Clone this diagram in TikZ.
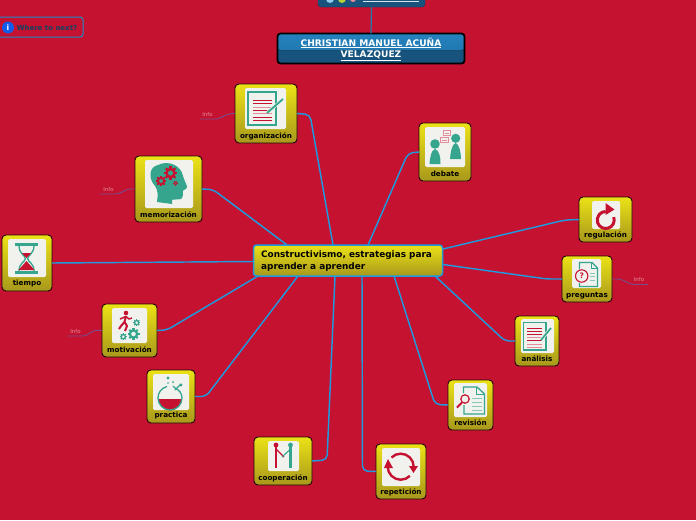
\documentclass[tikz,border=0pt]{standalone}
\usepackage{fontspec}
\setmainfont{DejaVu Sans}
\usetikzlibrary{calc}
\definecolor{bg}{HTML}{C41230}
\definecolor{conn}{HTML}{1E9ADF}
\definecolor{teal}{HTML}{35A58E}
\definecolor{panelc}{HTML}{F1F2EE}
\definecolor{ytop}{HTML}{EBE216}
\definecolor{ybot}{HTML}{A8981C}
\definecolor{pale}{HTML}{E58C9C}
\definecolor{navy}{HTML}{17537C}
\definecolor{rtop}{HTML}{2482BE}
\definecolor{infol}{HTML}{7A4C8C}
\tikzset{
  topicbox/.style={draw=black!85!bg,line width=.9pt,rounded corners=4pt,top color=ytop,bottom color=ybot,inner sep=0,outer sep=0},
  panelbox/.style={fill=panelc,rounded corners=1.5pt,inner sep=0,outer sep=0},
  lbl/.style={font=\bfseries\fontsize{7.2}{8}\selectfont,text=black,inner sep=0},
  linkline/.style={draw=conn,line width=1.45pt,rounded corners=5pt},
  infoline/.style={draw=infol,line width=.9pt,rounded corners=5pt},
  infotxt/.style={font=\fontsize{5.4}{6}\selectfont,text=pale,inner sep=0},
  tealline/.style={draw=teal,line width=1.3pt},
  redline/.style={draw=bg,line width=1pt},
  paleline/.style={draw=pale,line width=1pt}
}
\newcommand\topic[7]{%
  \node[topicbox,minimum width=#4pt,minimum height=#5pt] (#1) at (#2,#3) {};
  \node[lbl] (#1txt) at (#2,#7) {#6};}
\newcommand\iconpanel[5]{\node[panelbox,minimum width=#4pt,minimum height=#5pt] (#1) at (#2,#3) {};}
\newcommand\cog[4]{%
  \draw[#4,line width=#3*.45pt] (#1,#2) circle (#3*.72);
  \foreach \a in {0,45,...,315}{\draw[#4,line width=#3*.42pt] ($(#1,#2)+(\a:#3*.8)$) -- ($(#1,#2)+(\a:#3*1.2)$);}}
\begin{document}
\begin{tikzpicture}[x=1pt,y=-1pt]
\fill[bg] (0,0) rectangle (696,520);
\useasboundingbox (0,0) rectangle (696,520);

% top clipped node and root
\begin{scope}
\clip (0,0) rectangle (696,520);
\node[fill=navy,draw=navy!70!black,rounded corners=3pt,minimum width=107pt,minimum height=14pt,inner sep=0,outer sep=0] (top) at (371.5,0) {};
\fill[white!50!conn] (330,-1) circle (4);
\fill[ytop!70!teal] (342,-1) circle (4);
\fill[pale] (353,-1) circle (3);
\draw[white!85!navy,line width=.8pt] (363,1.5) -- (419,1.5);
\node[draw=conn!80!navy,line width=1pt,rounded corners=3pt,minimum width=88pt,minimum height=20pt,inner sep=0,outer sep=0] (next) at (39,27) {};
\end{scope}
\node[circle,fill=conn!60!blue,minimum size=12pt,inner sep=0,font=\bfseries\fontsize{7.5}{8}\selectfont,text=white] (nexti) at (8,27.5) {i};
\node[font=\bfseries\fontsize{7}{8}\selectfont,text=navy!80!black,inner sep=0] (nextt) at (47,27.5) {Where to next?};

\node[draw=black,line width=1.8pt,rounded corners=3pt,minimum width=187pt,minimum height=30pt,inner sep=0,outer sep=0,
  path picture={\fill[navy] (path picture bounding box.south west) rectangle (path picture bounding box.north east);
  \fill[top color=rtop,bottom color=rtop!80!navy] (path picture bounding box.north west) rectangle ($(path picture bounding box.east)+(0,1.5)$);}] (root) at (371,48.5) {};
\node[font=\bfseries\fontsize{9.1}{11}\selectfont,text=white,align=center,inner sep=0] (roottxt) at (371,49) {\underline{CHRISTIAN MANUEL ACUÑA}\\\underline{VELAZQUEZ}};
\draw[draw=conn!60!navy,line width=1.2pt] (top.south) -- (root.north);

% central node
\node[draw=conn,line width=1.5pt,rounded corners=3pt,top color=ytop,bottom color=ybot,minimum width=189pt,minimum height=31pt,inner sep=0,outer sep=0] (center) at (348,260.5) {};
\node[font=\bfseries\fontsize{8.9}{12}\selectfont,text=black,align=left,anchor=west,inner sep=0] (centertxt) at (261,261.5) {Constructivismo, estrategias para\\aprender a aprender};

% topics
\topic{org}{266}{113.5}{62}{59}{organización}{136}
\topic{memo}{168.5}{189}{67}{66}{memorización}{215}
\topic{tiem}{27}{263}{50}{56}{tiempo}{284}
\topic{moti}{129.5}{330.5}{55}{53}{motivación}{350}
\topic{prac}{171}{396.5}{48}{53}{practica}{416}
\topic{deba}{445}{152}{52}{58}{debate}{174}
\topic{regu}{605.5}{219.5}{53}{45}{regulación}{235}
\topic{preg}{587}{279}{50}{46}{preguntas}{295.5}
\topic{anal}{537}{341}{44}{50}{análisis}{359}
\topic{revi}{470.5}{405}{45}{50}{revisión}{423}
\topic{repe}{401}{471.5}{50}{55}{repetición}{492}
\topic{coop}{283}{461}{58}{48}{cooperación}{478}

\iconpanel{orgp}{265.5}{108.5}{41}{41}
\iconpanel{memop}{169}{184}{48}{48}
\iconpanel{tiemp}{27}{258}{38}{38}
\iconpanel{motip}{129.5}{325.5}{35}{35}
\iconpanel{pracp}{171}{392}{36}{36}
\iconpanel{debap}{445}{147}{40}{40}
\iconpanel{regup}{606}{215}{28}{28}
\iconpanel{pregp}{586.5}{273.5}{29}{29}
\iconpanel{analp}{537.5}{336}{33}{34}
\iconpanel{revip}{470.5}{400}{33}{34}
\iconpanel{repep}{401}{467}{38}{38}
\iconpanel{coopp}{283.5}{456}{31}{30}

% connector end points on the central node
\coordinate (corg) at (333,245);
\coordinate (cmem) at (287,245);
\coordinate (cdeb) at (368,245);
\coordinate (creg) at (443,249);
\coordinate (cpre) at (443,264.5);
\coordinate (cana) at (435,276);
\coordinate (crev) at (394,276);
\coordinate (crep) at (362,276);
\coordinate (ccoo) at (335,276);
\coordinate (cpra) at (298,276);
\coordinate (cmot) at (258,276);
\coordinate (ctie) at (253.5,261.5);

\draw[linkline] (org.east) -- (310,114.5) -- (corg);
\draw[linkline] (memo.east) -- (213,189.5) -- (cmem);
\draw[linkline] (tiem.east) -- (ctie);
\draw[linkline] (moti.east) -- (167,330) -- (cmot);
\draw[linkline] (prac.east) -- (206,396.5) -- (cpra);
\draw[linkline] (coop.east) -- (327,460) -- (ccoo);
\draw[linkline] (repe.west) -- (362.5,471) -- (crep);
\draw[linkline] (revi.west) -- (435,404.5) -- (crev);
\draw[linkline] (anal.west) -- (505,341) -- (cana);
\draw[linkline] (preg.west) -- (547,279) -- (cpre);
\draw[linkline] (regu.west) -- (565,220) -- (creg);
\draw[linkline] (deba.west) -- (408,153) -- (cdeb);

% info branches
\coordinate (i1) at (200,119);
\coordinate (i2) at (100,194);
\coordinate (i3) at (67,336);
\coordinate (i4) at (648,284.5);
\draw[infoline] (org.west) -- (226,114) -- (220,119) -- (i1);
\draw[infoline] (memo.west) -- (126,189) -- (120,194) -- (i2);
\draw[infoline] (moti.west) -- (93,330) -- (87,336) -- (i3);
\draw[infoline] (preg.east) -- (622,279) -- (630,284.5) -- (i4);
\node[infotxt] (i1t) at (207.5,114) {Info};
\node[infotxt] (i2t) at (108.5,189) {Info};
\node[infotxt] (i3t) at (75.5,331) {Info};
\node[infotxt] (i4t) at (639,279) {Info};

% --- icons ---
% organizacion
\draw[tealline] (248,92) rectangle (276,125);
\foreach \yy/\cc in {100/bg,103/bg,107/pale,110/bg,113/pale,117/bg,120/bg}{\draw[draw=\cc,line width=1pt] (253,\yy) -- (272,\yy);}
\draw[draw=panelc,line width=3pt] (268,112) -- (282,100);
\draw[draw=teal,line width=1.8pt] (267,113) -- (283,99);
% memorizacion
\fill[teal] (157,202) .. controls (158,195) and (158,190) .. (155,186)
  .. controls (148,178) and (149,167) .. (158,165)
  .. controls (168,160) and (181,165) .. (183,176)
  .. controls (184,180) and (187,185) .. (187,187)
  .. controls (187,189) and (183,190) .. (183,191)
  .. controls (183,194) and (183,198) .. (181,199)
  .. controls (177,200) and (173,199) .. (172,200) -- (172,204) -- cycle;
\cog{170.5}{173}{5.6}{bg}
\cog{161}{181}{4.3}{bg}
\cog{175.5}{183}{1.9}{bg}
% tiempo
\fill[teal] (15,242.5) rectangle (38,245.5);
\fill[teal] (15,271) rectangle (38,274);
\draw[tealline] (19,245.5) .. controls (19,254) and (25,255) .. (25.5,258.5) .. controls (25,262) and (19,263) .. (19,271);
\draw[tealline] (34,245.5) .. controls (34,254) and (28,255) .. (27.5,258.5) .. controls (28,262) and (34,263) .. (34,271);
\fill[bg] (22,253) -- (31,253) -- (26.5,258) -- cycle;
\fill[bg] (26.5,261) -- (18.5,270) -- (34.5,270) -- cycle;
% motivacion
\fill[bg] (126,313) circle (2.3);
\draw[draw=bg,line width=2pt,line join=round] (126,316) -- (124.5,322) -- (127,326) -- (125,331);
\draw[draw=bg,line width=2pt,line join=round] (124.5,322) -- (121,326) -- (119,329);
\draw[draw=bg,line width=1.5pt,line join=round] (120,319) -- (126,316.5) -- (129,319) -- (132,318);
\cog{133.5}{334}{5}{teal}
\cog{136.7}{322.7}{2.9}{teal}
\cog{123.3}{336.7}{2.9}{teal}
% practica
\fill[bg] (181.5,399) arc (0:180:11.5) -- cycle;
\draw[tealline] (167,386.5) .. controls (161,388) and (158,393) .. (158,398) arc (180:0:12) .. controls (182,393) and (179,390) .. (175,388) -- (173,386);
\draw[tealline] (175,390) -- (181,384);
\fill[teal] (168,378) circle (1.6);
\fill[teal] (173,382) circle (1);
\fill[teal] (181,385) circle (1.6);
\fill[teal] (168,383) circle (.9);
% debate
\fill[teal] (435,144) circle (4.8);
\fill[teal] (435,149) .. controls (431,150) and (430,158) .. (429.5,164) -- (440.5,164) .. controls (441,158) and (439,150) .. (435,149) -- cycle;
\fill[teal] (455.7,138.3) circle (4.6);
\fill[teal] (455.7,143) .. controls (452,144) and (450.5,152) .. (450,159) -- (461,159) .. controls (461,152) and (459,144) .. (455.7,143) -- cycle;
\draw[draw=pale,line width=.9pt,fill=panelc] (443,130.5) rectangle (450.5,135.5);
\draw[draw=pale,line width=.9pt,fill=panelc] (440,137.5) rectangle (448,142.5);
\draw[draw=pale,line width=.5pt] (444.5,133) -- (449,133) (441.5,140) -- (446.5,140);
% regulacion
\draw[draw=bg,line width=3pt] (613.7,217.1) arc (-20:270:8.5);
\fill[bg] (605.5,203) -- (614.5,209.5) -- (605.5,215) -- cycle;
% preguntas
\draw[tealline] (579.5,269) -- (579.5,262.5) -- (592,262.5) -- (597.5,268) -- (597.5,286.5) -- (579.5,286.5) -- (579.5,283);
\draw[draw=teal,line width=.8pt] (591,262.5) -- (591,268.5) -- (597,268.5);
\draw[draw=teal!60,line width=.8pt] (590,273) -- (595,273) (590,276.5) -- (595,276.5) (590,280) -- (595,280);
\draw[draw=bg,line width=1.1pt,fill=panelc] (581.7,276) circle (6.2);
\node[font=\bfseries\fontsize{7.5}{8}\selectfont,text=bg,inner sep=0] (pregq) at (581.7,276) {?};
% analisis
\draw[tealline] (523.5,322.5) rectangle (546,350);
\foreach \yy/\cc in {328/bg,331/bg,334/bg,337/pale,340/bg,344/pale,347/pale}{\draw[draw=\cc,line width=1pt] (527,\yy) -- (542,\yy);}
\draw[draw=panelc,line width=3pt] (541,340) -- (551,328);
\draw[draw=teal,line width=1.7pt] (541,340) -- (551,328);
% revision
\draw[tealline] (463.5,393) -- (463.5,387) -- (477,387) -- (484.5,394) -- (484.5,414) -- (464,414) -- (464,405);
\draw[draw=teal,line width=.8pt] (476,387) -- (476,394.5) -- (484,394.5);
\draw[draw=teal!60,line width=.8pt] (472,398) -- (482,398) (472,402) -- (482,402) (472,406) -- (482,406) (472,410) -- (482,410);
\draw[draw=bg,line width=1.2pt,fill=panelc] (465,399) circle (4.2);
\draw[draw=bg,line width=1.8pt] (462,402.5) -- (457,407.5);
% repeticion
\draw[draw=bg,line width=2.4pt] (391.5,457.5) arc (-135:0:13);
\draw[draw=bg,line width=2.4pt] (409.9,475.9) arc (45:180:13);
\fill[bg] (409,466) -- (418,466) -- (413.5,473) -- cycle;
\fill[bg] (384,468) -- (393,468) -- (388,459) -- cycle;
% cooperacion
\fill[bg] (276,445) circle (2.4);
\fill[teal] (290.5,445) circle (2.4);
\draw[draw=bg,line width=2.2pt] (276,447) -- (276,468);
\draw[draw=teal,line width=2.2pt] (290.5,447) -- (290.5,468);
\draw[draw=bg,line width=1.1pt] (276,449) -- (284,457);
\draw[draw=teal,line width=1.1pt] (290.5,449) -- (282,457);
\end{tikzpicture}
\end{document}
